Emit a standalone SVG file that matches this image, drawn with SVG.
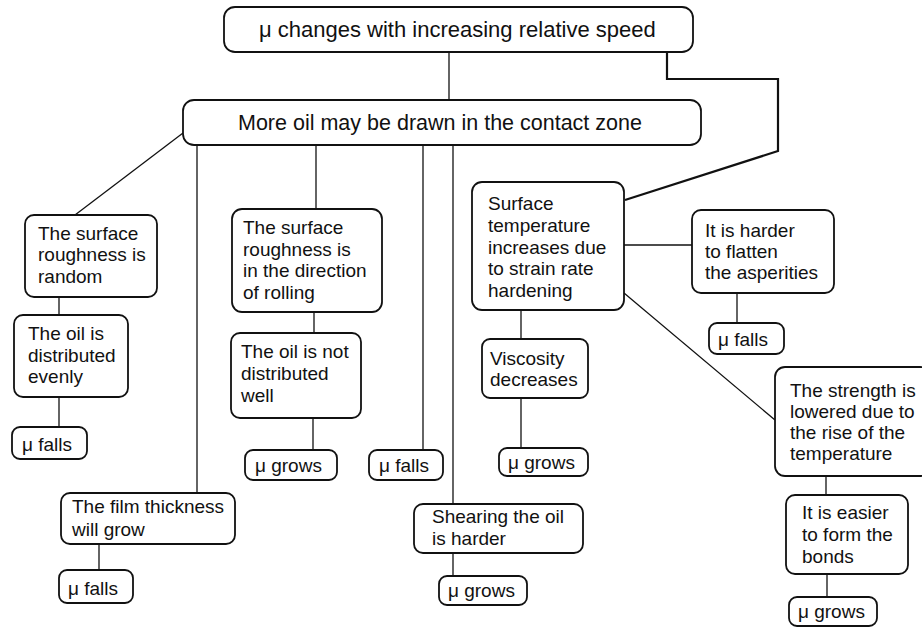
<svg xmlns="http://www.w3.org/2000/svg" width="922" height="628" viewBox="0 0 922 628">
<style>
.b{fill:#fff;stroke:#111;stroke-width:1.8}
.t{font-family:"Liberation Sans",Arial,Helvetica,sans-serif;font-size:19px;fill:#111}
.tl{font-size:21.5px}
.c{stroke:#111;stroke-width:1.3;fill:none}
.ck{stroke:#111;stroke-width:2.2;fill:none}
</style>
<rect width="922" height="628" fill="#fff"/>
<g id="connectors">
<line class="c" x1="449" y1="52" x2="449" y2="100"/>
<polyline class="ck" points="667,52 667,79 778,79 778,151 625,200"/>
<line class="c" x1="183" y1="133" x2="75" y2="215"/>
<line class="c" x1="197" y1="145" x2="197" y2="493"/>
<line class="c" x1="316" y1="145" x2="316" y2="209"/>
<line class="c" x1="423" y1="145" x2="423" y2="450"/>
<line class="c" x1="453" y1="145" x2="453" y2="504"/>
<line class="c" x1="59" y1="297" x2="59" y2="315"/>
<line class="c" x1="59" y1="397" x2="59" y2="427"/>
<line class="c" x1="99" y1="544" x2="99" y2="570"/>
<line class="c" x1="314" y1="312" x2="314" y2="333"/>
<line class="c" x1="313" y1="418" x2="313" y2="450"/>
<line class="c" x1="453" y1="553" x2="453" y2="576"/>
<line class="c" x1="624" y1="245" x2="692" y2="245"/>
<line class="c" x1="737" y1="293" x2="737" y2="323"/>
<line class="c" x1="521" y1="310" x2="521" y2="339"/>
<line class="c" x1="521" y1="398" x2="521" y2="448"/>
<line class="c" x1="624" y1="293" x2="775" y2="420"/>
<line class="c" x1="826" y1="476" x2="826" y2="495"/>
<line class="c" x1="827" y1="574" x2="827" y2="597"/>
</g>
<g id="n1"><rect class="b" x="224" y="7" width="469" height="45" rx="11"/><text class="t" style="font-size:22px" x="259" y="37">μ changes with increasing relative speed</text></g>
<g id="n2"><rect class="b" x="183" y="100" width="518" height="45" rx="11"/><text class="t tl" x="238" y="130">More oil may be drawn in the contact zone</text></g>
<g id="n3"><rect class="b" x="25" y="215" width="132" height="82" rx="9"/><text class="t" x="38" y="240">The surface</text><text class="t" x="38" y="261">roughness is</text><text class="t" x="38" y="283">random</text></g>
<g id="n4"><rect class="b" x="14" y="315" width="114" height="82" rx="9"/><text class="t" x="28" y="340">The oil is</text><text class="t" x="28" y="362">distributed</text><text class="t" x="28" y="383">evenly</text></g>
<g id="n5"><rect class="b" x="12" y="427" width="75" height="32" rx="8"/><text class="t" x="22" y="451">μ falls</text></g>
<g id="n6"><rect class="b" x="61" y="493" width="174" height="51" rx="9"/><text class="t" x="72" y="513">The film thickness</text><text class="t" x="72" y="536">will grow</text></g>
<g id="n7"><rect class="b" x="59" y="570" width="74" height="33" rx="8"/><text class="t" x="68" y="595">μ falls</text></g>
<g id="n8"><rect class="b" x="232" y="209" width="150" height="103" rx="10"/><text class="t" x="243" y="234">The surface</text><text class="t" x="243" y="256">roughness is</text><text class="t" x="243" y="277">in the direction</text><text class="t" x="243" y="299">of rolling</text></g>
<g id="n9"><rect class="b" x="231" y="333" width="130" height="85" rx="9"/><text class="t" x="241" y="358">The oil is not</text><text class="t" x="241" y="380">distributed</text><text class="t" x="241" y="402">well</text></g>
<g id="n10"><rect class="b" x="245" y="450" width="92" height="30" rx="8"/><text class="t" x="255" y="472">μ grows</text></g>
<g id="n11"><rect class="b" x="369" y="450" width="74" height="30" rx="8"/><text class="t" x="379" y="472">μ falls</text></g>
<g id="n12"><rect class="b" x="414" y="504" width="169" height="49" rx="9"/><text class="t" x="432" y="523">Shearing the oil</text><text class="t" x="432" y="545">is harder</text></g>
<g id="n13"><rect class="b" x="439" y="576" width="88" height="29" rx="8"/><text class="t" x="448" y="597">μ grows</text></g>
<g id="n14"><rect class="b" x="472" y="182" width="152" height="128" rx="10"/><text class="t" x="488" y="210">Surface</text><text class="t" x="488" y="232">temperature</text><text class="t" x="488" y="254">increases due</text><text class="t" x="488" y="275">to strain rate</text><text class="t" x="488" y="297">hardening</text></g>
<g id="n15"><rect class="b" x="692" y="210" width="142" height="83" rx="9"/><text class="t" x="705" y="237">It is harder</text><text class="t" x="705" y="258">to flatten</text><text class="t" x="705" y="279">the asperities</text></g>
<g id="n16"><rect class="b" x="709" y="323" width="75" height="31" rx="8"/><text class="t" x="718" y="346">μ falls</text></g>
<g id="n17"><rect class="b" x="482" y="339" width="106" height="59" rx="8"/><text class="t" x="490" y="365">Viscosity</text><text class="t" x="490" y="386">decreases</text></g>
<g id="n18"><rect class="b" x="499" y="448" width="89" height="28" rx="8"/><text class="t" x="508" y="469">μ grows</text></g>
<g id="n19"><rect class="b" x="775" y="367" width="155" height="109" rx="10"/><text class="t" x="790" y="397">The strength is</text><text class="t" x="790" y="418">lowered due to</text><text class="t" x="790" y="439">the rise of the</text><text class="t" x="790" y="460">temperature</text></g>
<g id="n20"><rect class="b" x="786" y="495" width="122" height="79" rx="9"/><text class="t" x="802" y="519">It is easier</text><text class="t" x="802" y="541">to form the</text><text class="t" x="802" y="563">bonds</text></g>
<g id="n21"><rect class="b" x="789" y="597" width="88" height="29" rx="8"/><text class="t" x="798" y="618">μ grows</text></g>
</svg>
